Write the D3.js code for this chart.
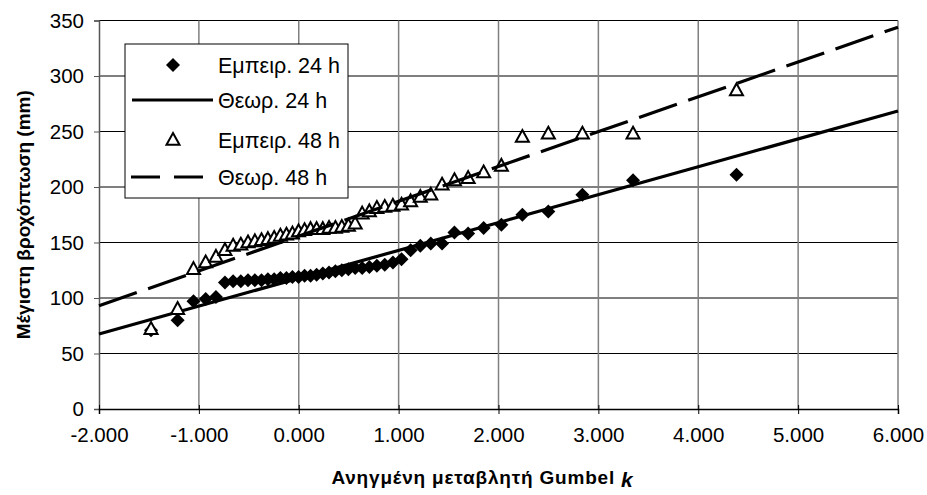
<!DOCTYPE html>
<html>
<head>
<meta charset="utf-8">
<script src="https://cdn.jsdelivr.net/npm/d3@7"></script>
<style>
  body { margin: 0; background: #fff; }
  svg text { font-family: "Liberation Sans", Arial, sans-serif; fill: #000; }
</style>
</head>
<body>
<div id="chart"></div>
<script>
// reduced Gumbel variate of each ranked year
var kValues = [-1.479, -1.213, -1.054, -0.932, -0.829, -0.739, -0.657, -0.580, -0.508, -0.439,
               -0.373, -0.309, -0.246, -0.184, -0.123, -0.063, -0.002, 0.058, 0.118, 0.179,
               0.241, 0.303, 0.367, 0.431, 0.497, 0.565, 0.635, 0.707, 0.782, 0.861,
               0.943, 1.029, 1.120, 1.217, 1.322, 1.435, 1.559, 1.696, 1.851, 2.029,
               2.239, 2.499, 2.840, 3.347, 4.383];
// empirical maxima (mm)
var rain24 = [71, 80, 97, 99, 101, 114, 115, 115, 116, 116,
              116, 117, 117, 118, 118, 119, 119, 120, 120, 121,
              122, 123, 124, 125, 126, 127, 127, 128, 129, 130,
              132, 135, 143, 147, 149, 149, 159, 158, 163, 166,
              175, 178, 193, 206, 211];
var rain48 = [72, 90, 126, 132, 137, 143, 147, 148, 150, 151,
              152, 153, 154, 156, 157, 158, 160, 161, 162, 162,
              162, 163, 163, 164, 165, 167, 176, 178, 181, 182,
              183, 184, 187, 191, 193, 202, 206, 208, 213, 219,
              245, 248, 248, 248, 287];
// theoretical Gumbel lines
var theoK = [-2, 6];
var theo24 = [67.6, 268.4];
var theo48 = [93, 344];

var xTicks = [-2, -1, 0, 1, 2, 3, 4, 5, 6];
var yTicks = [0, 50, 100, 150, 200, 250, 300, 350];
var legendLabels = ["Εμπειρ. 24 h", "Θεωρ. 24 h", "Εμπειρ. 48 h", "Θεωρ. 48 h"];

var W = 927, H = 495;
var margin = {top: 20.5, right: 29, bottom: 86, left: 99};
var width = W - margin.left - margin.right;
var height = H - margin.top - margin.bottom;

var svg = d3.select("#chart").append("svg")
    .attr("width", W)
    .attr("height", H);

var g = svg.append("g")
    .attr("transform", "translate(" + margin.left + "," + margin.top + ")");

var x = d3.scaleLinear().domain([-2, 6]).range([0, width]);
var y = d3.scaleLinear().domain([0, 350]).range([height, 0]);

// grid
g.append("g")
    .selectAll("line.hgrid")
    .data(yTicks.slice(1))
  .enter().append("line")
    .attr("x1", 0).attr("x2", width)
    .attr("y1", function(d){ return y(d); })
    .attr("y2", function(d){ return y(d); })
    .attr("stroke", "#000").attr("stroke-width", 1);

g.append("g")
    .selectAll("line.vgrid")
    .data(xTicks.slice(1))
  .enter().append("line")
    .attr("y1", 0).attr("y2", height)
    .attr("x1", function(d){ return x(d); })
    .attr("x2", function(d){ return x(d); })
    .attr("stroke", "#808080").attr("stroke-width", 1.5);

// axes
var yAxis = g.append("g")
    .call(d3.axisLeft(y).tickValues(yTicks).tickSize(5).tickPadding(10));
yAxis.select(".domain").attr("stroke", "#555").attr("stroke-width", 1.5);
yAxis.selectAll(".tick line").attr("stroke", "#555");
yAxis.selectAll("text").style("font-size", "20.5px");

var xAxis = g.append("g")
    .attr("transform", "translate(0," + height + ")")
    .call(d3.axisBottom(x).tickValues(xTicks).tickSize(5).tickPadding(13)
        .tickFormat(function(d){ return d.toFixed(3); }));
xAxis.select(".domain").attr("stroke", "#000").attr("stroke-width", 1.5);
xAxis.selectAll(".tick line").attr("y1", -4);
xAxis.selectAll("text").style("font-size", "20.5px");

// series
var diamond = "M0,-7L7,0L0,7L-7,0Z";
var triangle = "M0,-7L6.5,4.8L-6.5,4.8Z";

g.selectAll("path.e24")
    .data(kValues)
  .enter().append("path")
    .attr("d", diamond)
    .attr("transform", function(d, i){ return "translate(" + x(d) + "," + y(rain24[i]) + ")"; })
    .attr("fill", "#000");

var line = d3.line()
    .x(function(d){ return x(d[0]); })
    .y(function(d){ return y(d[1]); });

g.append("path")
    .datum(d3.zip(theoK, theo24))
    .attr("d", line)
    .attr("fill", "none").attr("stroke", "#000").attr("stroke-width", 3.2);

g.selectAll("path.e48")
    .data(kValues)
  .enter().append("path")
    .attr("d", triangle)
    .attr("transform", function(d, i){ return "translate(" + x(d) + "," + y(rain48[i]) + ")"; })
    .attr("fill", "#fff").attr("stroke", "#000").attr("stroke-width", 2);

g.append("path")
    .datum(d3.zip(theoK, theo48))
    .attr("d", line)
    .attr("fill", "none").attr("stroke", "#000").attr("stroke-width", 3.2)
    .attr("stroke-dasharray", "40,12");

// legend
var legend = svg.append("g").attr("transform", "translate(125,44)");
legend.append("rect")
    .attr("width", 223).attr("height", 154)
    .attr("fill", "#fff").attr("stroke", "#000").attr("stroke-width", 1);

var rowY = [21, 56, 96, 133];
legend.append("path").attr("d", diamond)
    .attr("transform", "translate(48," + rowY[0] + ")").attr("fill", "#000");
legend.append("line").attr("x1", 7).attr("x2", 88)
    .attr("y1", rowY[1]).attr("y2", rowY[1])
    .attr("stroke", "#000").attr("stroke-width", 3.2);
legend.append("path").attr("d", triangle)
    .attr("transform", "translate(48," + rowY[2] + ")")
    .attr("fill", "#fff").attr("stroke", "#000").attr("stroke-width", 2);
legend.append("line").attr("x1", 6).attr("x2", 78)
    .attr("y1", rowY[3]).attr("y2", rowY[3])
    .attr("stroke", "#000").attr("stroke-width", 3.2)
    .attr("stroke-dasharray", "29,14");

legend.selectAll("text.lab")
    .data(legendLabels)
  .enter().append("text")
    .attr("x", 93)
    .attr("y", function(d, i){ return rowY[i]; })
    .attr("dy", "0.36em")
    .style("font-size", "21.5px")
    .text(function(d){ return d; });

// axis titles
svg.append("text")
    .attr("transform", "translate(23," + (margin.top + height / 2) + ") rotate(-90)")
    .attr("text-anchor", "middle")
    .attr("dy", "0.35em")
    .style("font-size", "19px").style("font-weight", "bold")
    .text("Μέγιστη βροχόπτωση (mm)");

var xt = svg.append("text")
    .attr("x", margin.left + width / 2 - 16)
    .attr("y", 484)
    .attr("text-anchor", "middle")
    .style("font-size", "19px").style("font-weight", "bold")
    .style("letter-spacing", "0.8px");
xt.append("tspan").text("Ανηγμένη μεταβλητή Gumbel ");
xt.append("tspan").attr("dy", 3).style("font-style", "italic").style("font-size", "21px").text("k");
</script>
</body>
</html>
